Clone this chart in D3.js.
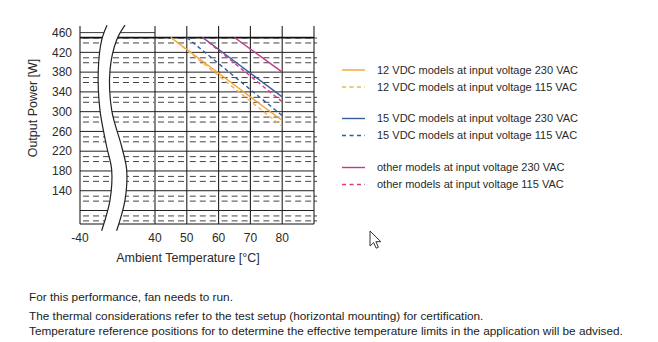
<!DOCTYPE html>
<html><head><meta charset="utf-8">
<script src="https://cdn.jsdelivr.net/npm/d3@7/dist/d3.min.js"></script>
<style>
body{margin:0;background:#fff;}
svg{display:block;font-family:"Liberation Sans",Arial,sans-serif;}
</style></head>
<body><svg id="c" width="658" height="342"></svg>
<script>
// ---- data ----
const yTickLabels = [460, 420, 380, 340, 300, 260, 220, 180, 140];
const yGridValues = [460, 420, 380, 340, 300, 260, 220, 180, 140, 100];
const xTickLabels = [-40, 40, 50, 60, 70, 80];
const xGridValues = [-40, 40, 50, 60, 70, 80, 90];
const maxPower = 450;
const endTemp = 80;
const seriesNames = [
  "12 VDC models at input voltage 230 VAC",
  "12 VDC models at input voltage 115 VAC",
  "15 VDC models at input voltage 230 VAC",
  "15 VDC models at input voltage 115 VAC",
  "other models at input voltage 230 VAC",
  "other models at input voltage 115 VAC"
];
const derateStart = [45, 45, 55, 50, 65, 55];     // °C where derating starts (450 W)
const powerAtEnd  = [282, 270, 330, 292, 380, 320]; // W at 80 °C
const seriesColors = ["#f2a42c", "#f0b35c", "#36609d", "#2f5d98", "#c23a8b", "#de3a80"];
const seriesDashed = [false, true, false, true, false, true];
// axis-break outline (temperature, power)
const breakLeftT  = [-11.2, -16.9, -20.5, -18.7, -11.5, -6.2, -8, -16.9];
const breakRightT = [8, -0.9, -8, -6.2, 4.5, 9.8, 8, -0.9];
const breakP      = [475, 445, 384, 303, 229, 182, 121, 59];
const notes = [
  "For this performance, fan needs to run.",
  "The thermal considerations refer to the test setup (horizontal mounting) for certification.",
  "Temperature reference positions for to determine the effective temperature limits in the application will be advised."
];

// ---- layout ----
const svg = d3.select("#c");
const x = d3.scaleLinear().domain([-40, 40, 90]).range([80, 155, 314]);
const y = d3.scaleLinear().domain([460, 100]).range([32.6, 210.5]);
const frameTop = 26, frameBottom = 224;
const xL = x(-40), xR = x(90);

const g = svg.append("g");

// minor dashed horizontal lines, per column
const minorVals = [];
yGridValues.forEach(m => { minorVals.push(m - 11, m - 21); });
const bottomVal = y.invert(frameBottom);
const cols = [[-40, 40]].concat(d3.range(40, 90, 10).map(t => [t, t + 10]));
minorVals.filter(v => v > bottomVal + 2).forEach(v => {
  cols.forEach(c => {
    g.append("line")
      .attr("x1", x(c[0]) + 3).attr("x2", x(c[1]) - 1)
      .attr("y1", y(v)).attr("y2", y(v))
      .attr("stroke", "#444").attr("stroke-width", 1)
      .attr("stroke-dasharray", "6,4");
  });
  g.append("line").attr("x1", xR).attr("x2", xR + 3)
    .attr("y1", y(v)).attr("y2", y(v)).attr("stroke", "#444").attr("stroke-width", 1);
});

// major horizontal lines
yGridValues.filter(v => v < 460).forEach(v => {
  g.append("line").attr("x1", xL).attr("x2", xR)
    .attr("y1", y(v)).attr("y2", y(v))
    .attr("stroke", "#222").attr("stroke-width", 1);
});
g.append("line").attr("x1", xL).attr("x2", x(40))
  .attr("y1", y(460)).attr("y2", y(460)).attr("stroke", "#222").attr("stroke-width", 0.9);
g.append("line").attr("x1", xL).attr("x2", xR)
  .attr("y1", frameBottom).attr("y2", frameBottom).attr("stroke", "#111").attr("stroke-width", 1.2);

// vertical lines
xGridValues.forEach(t => {
  g.append("line").attr("x1", x(t)).attr("x2", x(t))
    .attr("y1", frameTop).attr("y2", frameBottom)
    .attr("stroke", "#222").attr("stroke-width", 1.1);
});

// max power line
g.append("line").attr("x1", xL).attr("x2", xR)
  .attr("y1", y(maxPower)).attr("y2", y(maxPower))
  .attr("stroke", "#111").attr("stroke-width", 1.8);

// derating curves
const line = d3.line().x(d => x(d[0])).y(d => y(d[1]));
seriesNames.forEach((n, i) => {
  const pts = [[derateStart[i], maxPower], [endTemp, powerAtEnd[i]]];
  g.append("path").attr("d", line(pts)).attr("fill", "none")
    .attr("stroke", seriesColors[i]).attr("stroke-width", 1.4)
    .attr("stroke-dasharray", seriesDashed[i] ? "4,3" : null);
});

// axis break
const leftPts = breakLeftT.map((t, i) => [x(t), y(breakP[i])]);
const rightPts = breakRightT.map((t, i) => [x(t), y(breakP[i])]);
const curve = d3.line().curve(d3.curveCatmullRom);
g.append("path")
  .attr("d", curve(leftPts) + "L" + curve(rightPts.slice().reverse()).slice(1) + "Z")
  .attr("fill", "#fff").attr("stroke", "none");
[leftPts, rightPts].forEach(p => {
  g.append("path").attr("d", curve(p)).attr("fill", "none")
    .attr("stroke", "#222").attr("stroke-width", 1.2);
});

// tick labels
const txt = "#2a2a2a";
g.selectAll(".yt").data(yTickLabels).enter().append("text")
  .attr("x", 72).attr("y", d => y(d)).attr("dy", "0.35em")
  .attr("text-anchor", "end").attr("font-size", 12).attr("fill", txt)
  .text(d => d);
g.selectAll(".xt").data(xTickLabels).enter().append("text")
  .attr("x", d => x(d)).attr("y", 241.5)
  .attr("text-anchor", "middle").attr("font-size", 12).attr("fill", txt)
  .text(d => d);
g.append("text").attr("x", 188).attr("y", 262).attr("text-anchor", "middle")
  .attr("font-size", 12.5).attr("fill", txt).text("Ambient Temperature [°C]");
g.append("text").attr("transform", "translate(37,108) rotate(-90)")
  .attr("text-anchor", "middle").attr("font-size", 12.5).attr("fill", txt)
  .text("Output Power [W]");

// legend
const legendY = [70, 87, 118.5, 135.5, 167.5, 184.5];
seriesNames.forEach((n, i) => {
  g.append("line").attr("x1", 342).attr("x2", 365)
    .attr("y1", legendY[i]).attr("y2", legendY[i])
    .attr("stroke", seriesColors[i]).attr("stroke-width", 1.4)
    .attr("stroke-dasharray", seriesDashed[i] ? "4,3.5" : null);
  g.append("text").attr("x", 377).attr("y", legendY[i]).attr("dy", "0.35em")
    .attr("font-size", 11).attr("fill", txt).text(n);
});

// notes
const noteY = [300.5, 319.5, 334.5];
notes.forEach((n, i) => {
  g.append("text").attr("x", 29).attr("y", noteY[i])
    .attr("font-size", 11.8).attr("fill", "#222").text(n);
});

// mouse pointer
svg.append("path")
  .attr("d", "M370,231 L370,246 L373.6,242.6 L376.2,248.2 L378.4,247.2 L375.9,241.7 L380.8,241.7 Z")
  .attr("fill", "#fff").attr("stroke", "#333").attr("stroke-width", 1).attr("stroke-linejoin", "round");
</script></body></html>
